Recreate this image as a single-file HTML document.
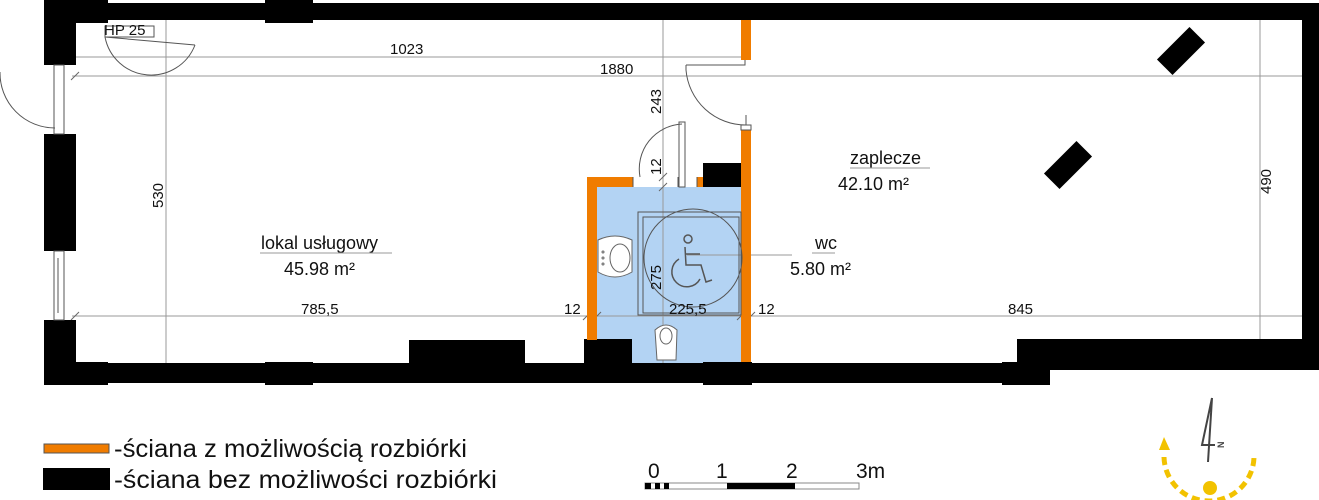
<!DOCTYPE html>
<html><head><meta charset="utf-8"><style>
html,body{margin:0;padding:0;background:#fff;}
svg{display:block;font-family:"Liberation Sans",sans-serif;}
</style></head><body>
<svg width="1319" height="500" viewBox="0 0 1319 500" xmlns="http://www.w3.org/2000/svg">
<rect x="597" y="187" width="144" height="176" fill="#b3d3f3"/>
<g stroke="#999" stroke-width="1" fill="none">
<line x1="76" y1="57" x2="745" y2="57"/>
<line x1="72" y1="76" x2="1306" y2="76"/>
<line x1="72" y1="316" x2="1306" y2="316"/>
<line x1="166" y1="20" x2="166" y2="364"/>
<line x1="663" y1="20" x2="663" y2="364"/>
<line x1="1260" y1="20" x2="1260" y2="340"/>
<line x1="687" y1="255" x2="792" y2="255"/>
</g>
<g stroke="#666" stroke-width="1">
<line x1="71" y1="80" x2="79" y2="72"/><line x1="71" y1="320" x2="79" y2="312"/>
<line x1="583" y1="320" x2="591" y2="312"/><line x1="593" y1="320" x2="601" y2="312"/>
<line x1="737" y1="320" x2="745" y2="312"/><line x1="747" y1="320" x2="755" y2="312"/>
<line x1="659" y1="181" x2="667" y2="173"/><line x1="659" y1="191" x2="667" y2="183"/>
</g>
<g fill="#000">
<rect x="44" y="3" width="1275" height="17"/>
<rect x="44" y="0" width="64" height="23"/>
<rect x="265" y="0" width="48" height="23"/>
<rect x="44" y="0" width="32" height="65"/>
<rect x="44" y="134" width="32" height="117"/>
<rect x="44" y="320" width="32" height="65"/>
<rect x="44" y="363" width="962" height="20"/>
<rect x="44" y="362" width="64" height="23"/>
<rect x="265" y="362" width="48" height="23"/>
<rect x="409" y="340" width="116" height="25"/>
<rect x="584" y="339" width="48" height="26"/>
<rect x="703" y="362" width="49" height="23"/>
<rect x="1002" y="362" width="48" height="23"/>
<rect x="1017" y="339" width="302" height="31"/>
<rect x="1302" y="3" width="17" height="367"/>
<rect x="703" y="163" width="48" height="24"/>
<rect x="-23" y="-11" width="46" height="22" transform="translate(1181,51) rotate(-45)"/>
<rect x="-23" y="-11" width="46" height="22" transform="translate(1068,165) rotate(-45)"/>
</g>
<g fill="#f07c00">
<rect x="741" y="20" width="10" height="40"/>
<rect x="741" y="130" width="10" height="232"/>
<rect x="587" y="177" width="10" height="163"/>
<rect x="587" y="177" width="46" height="10"/>
<rect x="697" y="177" width="6" height="10"/>
</g>
<g stroke="#555" stroke-width="1" fill="none">
<rect x="54" y="65" width="10" height="69"/>
<rect x="54" y="251" width="10" height="69"/>
<line x1="58" y1="258" x2="58" y2="313"/>
<path d="M0 72 A 55 55 0 0 0 55 128"/>
<line x1="105" y1="37" x2="195" y2="45"/>
<path d="M105 37 A 47 47 0 0 0 195 45"/>
<rect x="105" y="26" width="49" height="11"/>
<path d="M686 65 L745 65 L745 60 M686 65 L686 70"/>
<path d="M686 70 A 60 60 0 0 0 746 125"/>
<rect x="741" y="125" width="10" height="5"/>
<line x1="746" y1="115" x2="746" y2="125"/>
<path d="M633 177 L633 187 M697 177 L697 187"/>
<rect x="679" y="122" width="6" height="65"/>
<path d="M640 177 A 45 45 0 0 1 682 124"/>
<line x1="678" y1="177" x2="678" y2="187"/>
<rect x="638" y="212" width="103" height="103"/>
<rect x="643" y="217" width="96" height="96"/>
<circle cx="693" cy="258" r="49"/>
</g>
<g stroke="#555" stroke-width="1.5" fill="none">
<circle cx="688" cy="239" r="4"/>
<path d="M685 247 L686 265 L701 265 L706 282 L712 280"/>
<path d="M686 254 L700 254"/>
<path d="M679 259 A 15 15 0 1 0 700 279"/>
</g>
<g stroke="#666" stroke-width="1" fill="#fff">
<path d="M598 240 Q 615 232 632 240 L632 272 Q 615 282 598 272 Z"/>
<ellipse cx="620" cy="258" rx="10" ry="14"/>
<circle cx="603" cy="252" r="1"/><circle cx="603" cy="258" r="1"/><circle cx="603" cy="264" r="1"/>
<path d="M655 330 Q 666 320 677 330 L676 360 L657 360 Z"/>
<ellipse cx="666" cy="336" rx="6" ry="8"/>
</g>
<g fill="#111" font-size="15">
<text x="104" y="35">HP 25</text>
<text x="390" y="54">1023</text>
<text x="600" y="74">1880</text>
<text x="301" y="314">785,5</text>
<text x="564" y="314">12</text>
<text x="669" y="314">225,5</text>
<text x="758" y="314">12</text>
<text x="1008" y="314">845</text>
<text transform="translate(163,208) rotate(-90)">530</text>
<text transform="translate(661,114) rotate(-90)">243</text>
<text transform="translate(661,175) rotate(-90)">12</text>
<text transform="translate(661,290) rotate(-90)">275</text>
<text transform="translate(1271,194) rotate(-90)">490</text>
</g>
<g fill="#111" font-size="18">
<text x="261" y="249">lokal usługowy</text>
<text x="284" y="275">45.98 m²</text>
<text x="815" y="249">wc</text>
<text x="790" y="275">5.80 m²</text>
<text x="850" y="164">zaplecze</text>
<text x="838" y="190">42.10 m²</text>
</g>
<g stroke="#999" stroke-width="1">
<line x1="260" y1="253" x2="392" y2="253"/>
<line x1="812" y1="253" x2="835" y2="253"/>
<line x1="850" y1="168" x2="930" y2="168"/>
</g>
<rect x="44" y="444" width="65" height="9" fill="#f07c00" stroke="#555" stroke-width="1"/>
<rect x="43" y="468" width="67" height="22" fill="#000"/>
<g fill="#111" font-size="25">
<text x="114" y="457" textLength="353" lengthAdjust="spacingAndGlyphs">-ściana z możliwością rozbiórki</text>
<text x="114" y="488" textLength="383" lengthAdjust="spacingAndGlyphs">-ściana bez możliwości rozbiórki</text>
</g>
<g font-size="21" fill="#111">
<text x="648" y="478">0</text><text x="716" y="478">1</text><text x="786" y="478">2</text><text x="856" y="478">3m</text>
</g>
<rect x="645" y="483" width="143" height="6" fill="#fff" stroke="#888"/>
<rect x="788" y="483" width="71" height="6" fill="#fff" stroke="#888"/>
<rect x="645" y="483" width="6" height="6" fill="#000"/>
<rect x="655" y="483" width="5" height="6" fill="#000"/>
<rect x="664" y="483" width="5" height="6" fill="#000"/>
<rect x="727" y="483" width="68" height="6" fill="#000"/>
<path d="M1164 457 A 45 45 0 0 0 1254 455" stroke="#f2c200" stroke-width="5" fill="none" stroke-dasharray="8 5"/>
<circle cx="1210" cy="488" r="7" fill="#f2c200"/>
<path d="M1159 450 L1164 437 L1170 450 Z" fill="#f2c200"/>
<path d="M1212 398 L1208 462 M1212 398 L1202 445 L1215 445" stroke="#444" stroke-width="2" fill="none"/>
<text x="1217" y="447" font-size="9" font-weight="bold" fill="#444" transform="rotate(-90 1221 444)">N</text>
</svg>
</body></html>
